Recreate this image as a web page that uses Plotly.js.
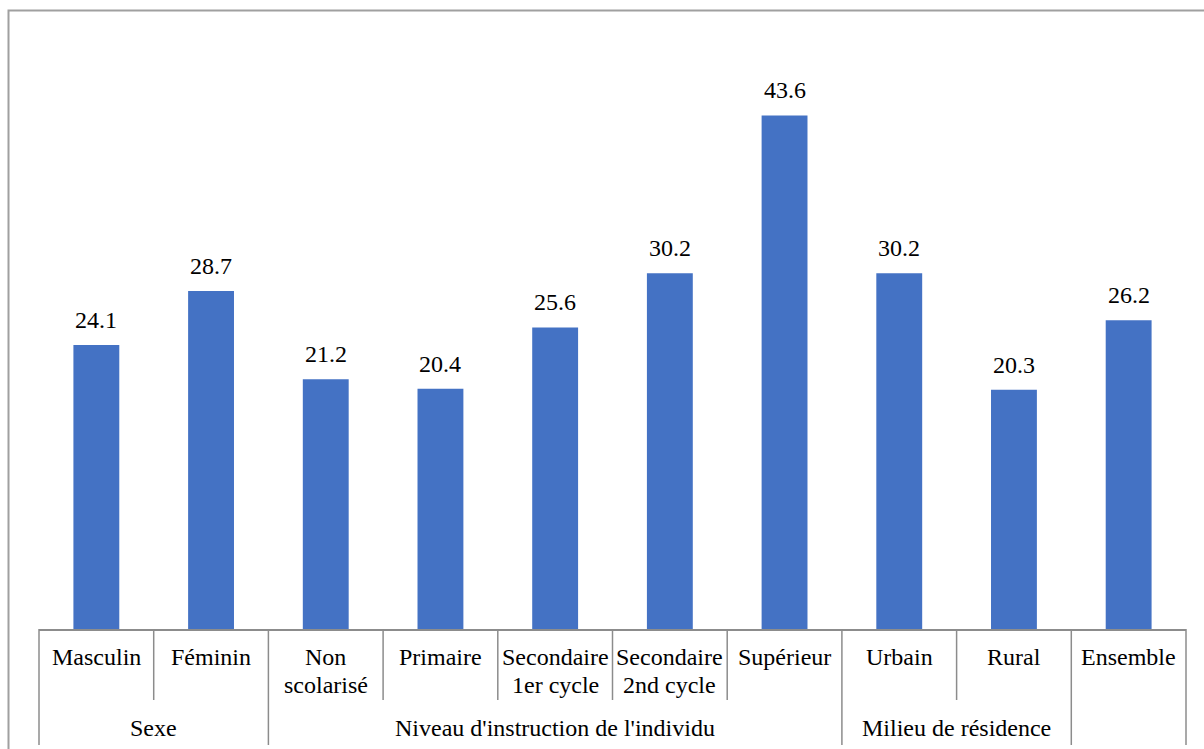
<!DOCTYPE html>
<html>
<head>
<meta charset="utf-8">
<script src="https://cdn.plot.ly/plotly-3.0.1.min.js"></script>
<style>
html,body{margin:0;padding:0;background:#fff;}
#chart{width:1204px;height:749px;}
</style>
</head>
<body>
<div id="chart"></div>
<script>
// ---- data ----
var categories = ["Masculin", "Féminin", "Non<br>scolarisé", "Primaire", "Secondaire<br>1er cycle",
                  "Secondaire<br>2nd cycle", "Supérieur", "Urbain", "Rural", "Ensemble"];
var values = [24.1, 28.7, 21.2, 20.4, 25.6, 30.2, 43.6, 30.2, 20.3, 26.2];
var groupLabels = ["Sexe", "Niveau d'instruction de l'individu", "Milieu de résidence", ""];
var groupSizes = [2, 5, 2, 1];

// ---- layout geometry ----
var W = 1204, H = 749;
var mL = 39, mR = 18, mT = 40, mB = 120;
var plotW = W - mL - mR, plotH = H - mT - mB;
var baseY = mT + plotH;
function px2paper(px) { return (px - mL) / plotW; }
function py2paper(py) { return (baseY - py) / plotH; }

var FONT = "Liberation Serif";
var FS = 24;
var lineCol = "#8c8c8c";
var n = categories.length;

var annotations = [];
var shapes = [];

// value labels
values.forEach(function (v, i) {
  annotations.push({
    x: categories[i], y: v, xref: "x", yref: "y",
    text: v.toFixed(1), showarrow: false,
    yanchor: "middle", xanchor: "center", yshift: 25,
    font: {family: FONT, size: FS, color: "#000"}
  });
});

// category labels (each line placed individually)
var lineY = [657, 685];
categories.forEach(function (c, i) {
  c.split("<br>").forEach(function (t, k) {
    annotations.push({
      x: (i + 0.5) / n, y: py2paper(lineY[k]), xref: "paper", yref: "paper",
      text: t, showarrow: false, xanchor: "center", yanchor: "middle",
      font: {family: FONT, size: FS, color: "#000"}
    });
  });
});

// group labels and separators
var start = 0;
var fullIdx = [0];
groupSizes.forEach(function (s, g) {
  if (groupLabels[g]) {
    annotations.push({
      x: (start + s / 2) / n, y: py2paper(728), xref: "paper", yref: "paper",
      text: groupLabels[g], showarrow: false, xanchor: "center", yanchor: "middle",
      font: {family: FONT, size: FS, color: "#000"}
    });
  }
  start += s;
  fullIdx.push(start);
});
for (var i = 0; i <= n; i++) {
  var full = fullIdx.indexOf(i) >= 0;
  shapes.push({
    type: "line", xref: "paper", yref: "paper",
    x0: i / n, x1: i / n, y0: 0, y1: py2paper(full ? 745 : 700),
    line: {color: lineCol, width: 1.5}
  });
}

// outer border
shapes.push({
  type: "rect", xref: "paper", yref: "paper",
  x0: px2paper(8.5), x1: px2paper(1230), y0: py2paper(800), y1: py2paper(10.5),
  line: {color: "#a0a0a0", width: 2}, fillcolor: "rgba(0,0,0,0)"
});

var trace = {
  type: "bar", x: categories, y: values,
  marker: {color: "#4472C4"}, hoverinfo: "none"
};

var layout = {
  width: W, height: H,
  margin: {l: mL, r: mR, t: mT, b: mB, pad: 0},
  paper_bgcolor: "#fff", plot_bgcolor: "#fff",
  bargap: 0.6, showlegend: false,
  font: {family: FONT, size: FS, color: "#000"},
  xaxis: {type: "category", showticklabels: false, ticks: "", showgrid: false,
          zeroline: false, showline: true, linecolor: lineCol, linewidth: 1.5,
          range: [-0.5, n - 0.5], fixedrange: true},
  yaxis: {visible: false, range: [0, 50], showgrid: false, zeroline: false, fixedrange: true},
  annotations: annotations,
  shapes: shapes
};

Plotly.newPlot("chart", [trace], layout, {displayModeBar: false, staticPlot: true});
</script>
</body>
</html>
